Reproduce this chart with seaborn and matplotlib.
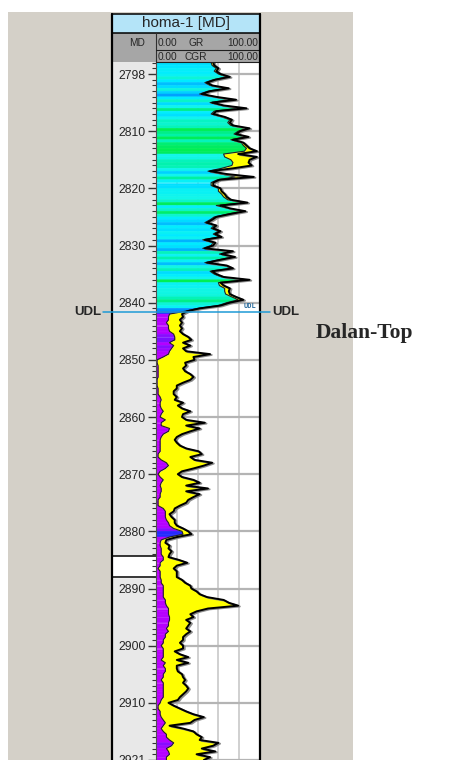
import numpy as np
import matplotlib
matplotlib.use("Agg")
import matplotlib.pyplot as plt
import matplotlib.patheffects as pe
import seaborn as sns
from matplotlib import transforms
from matplotlib.collections import PolyCollection
from matplotlib.colors import LinearSegmentedColormap
from matplotlib.lines import Line2D
from matplotlib.patches import Rectangle

# --- log data, sampled every 0.5 m from 2798 m MD ---
depth_top = 2798.0
depth_step = 0.5

gr = [55, 56, 60, 58, 62, 71, 57, 49, 54, 70,
      52, 44, 58, 77, 54, 65, 87, 58, 55, 66,
      73, 71, 74, 90, 81, 77, 89, 74, 84, 87,
      90, 97, 79, 97, 90, 89, 92, 74, 52, 68,
      94, 61, 55, 55, 62, 63, 66, 68, 72, 88,
      62, 71, 86, 71, 58, 54, 49, 58, 55, 62,
      57, 63, 47, 57, 55, 47, 74, 63, 76, 62,
      49, 68, 74, 54, 58, 65, 90, 62, 65, 71,
      70, 71, 77, 84, 71, 62, 42, 30, 25, 26,
      23, 25, 23, 25, 23, 26, 31, 34, 26, 33,
      26, 29, 52, 36, 37, 28, 29, 26, 28, 33,
      36, 33, 26, 20, 20, 17, 17, 20, 18, 26,
      21, 25, 33, 26, 25, 29, 47, 29, 42, 33,
      25, 20, 18, 20, 23, 29, 41, 44, 33, 37,
      54, 46, 36, 25, 21, 25, 36, 42, 29, 50,
      29, 42, 36, 31, 29, 23, 18, 17, 13, 15,
      18, 18, 20, 26, 31, 34, 20, 10, 9, 13,
      12, 15, 13, 12, 22, 30, 20, 17, 20, 20,
      20, 25, 28, 33, 34, 39, 42, 49, 65, 70,
      79, 50, 39, 33, 36, 29, 33, 31, 29, 33,
      29, 26, 26, 23, 26, 26, 18, 23, 31, 20,
      31, 20, 20, 21, 25, 26, 28, 26, 29, 31,
      29, 26, 23, 21, 12, 17, 23, 29, 36, 46,
      37, 33, 13, 26, 36, 39, 44, 42, 60, 55,
      44, 57, 39, 52, 46]

cgr = [53, 54, 58, 56, 60, 68, 55, 47, 52, 67,
       50, 42, 56, 70, 52, 63, 79, 56, 53, 63,
       71, 69, 72, 87, 79, 75, 86, 72, 82, 84,
       87, 85, 65, 66, 72, 74, 73, 63, 50, 63,
       76, 59, 53, 53, 60, 60, 63, 65, 69, 85,
       58, 69, 83, 69, 56, 52, 47, 56, 53, 60,
       55, 61, 45, 55, 53, 45, 72, 61, 74, 60,
       47, 66, 72, 52, 56, 63, 87, 60, 61, 66,
       66, 67, 73, 79, 68, 60, 40, 28, 13, 12,
       12, 10, 12, 12, 13, 17, 18, 18, 13, 17,
       15, 13, 12, 7, 1, 1, 2, 2, 2, 2,
       2, 1, 1, 1, 2, 2, 2, 4, 5, 4,
       4, 5, 7, 5, 4, 9, 5, 5, 13, 12,
       7, 5, 4, 4, 4, 4, 4, 2, 2, 5,
       10, 12, 9, 4, 2, 4, 7, 5, 4, 5,
       5, 4, 4, 2, 2, 2, 7, 9, 9, 9,
       10, 12, 13, 17, 25, 26, 13, 5, 4, 4,
       5, 5, 5, 7, 7, 4, 4, 2, 4, 4,
       4, 5, 5, 7, 7, 7, 7, 7, 9, 9,
       10, 12, 12, 12, 13, 13, 12, 12, 10, 12,
       9, 9, 7, 7, 5, 7, 7, 7, 7, 5,
       9, 7, 9, 9, 7, 7, 5, 7, 7, 7,
       7, 7, 7, 5, 4, 2, 2, 4, 4, 5,
       7, 9, 7, 5, 7, 10, 10, 13, 17, 15,
       10, 12, 13, 10, 10]

udl_depth = 2841.7
gap_top, gap_base = 2884.3, 2887.9
major_ticks = [2800, 2810, 2820, 2830, 2840, 2850, 2860,
               2870, 2880, 2890, 2900, 2910, 2920]
tick_labels = ["2798", "2810", "2820", "2830", "2840", "2850", "2860",
               "2870", "2880", "2890", "2900", "2910", "2921"]

gr = np.array(gr, dtype=float)
cgr = np.array(cgr, dtype=float)
depth = depth_top + depth_step * np.arange(len(gr))

W, H = 472, 760


def fx(px):
    return px / W


def fy(py):
    return 1 - py / H


sns.set_style("white")
plt.rcParams["font.family"] = ["Liberation Sans", "DejaVu Sans"]

fig = plt.figure(figsize=(W / 100, H / 100), dpi=100)
fig.patch.set_facecolor("white")
fig.add_artist(Rectangle((fx(8), 0), fx(353) - fx(8), fy(12), transform=fig.transFigure,
                         facecolor="#d4d0c8", edgecolor="none", zorder=-5))

y_top, y_bot = 2797.9, 2919.9

# depth column
ax_d = fig.add_axes([fx(112), 0, fx(156) - fx(112), fy(62)])
ax_d.set_facecolor("#e8e8e8")
ax_d.set_ylim(y_bot, y_top)
ax_d.set_xlim(0, 1)
ax_d.set_xticks([])
ax_d.set_yticks([])
for s in ax_d.spines.values():
    s.set_visible(False)
ax_d.axhspan(gap_top, gap_base, color="white")
ax_d.axhline(gap_top, color="black", lw=1.1)
ax_d.axhline(gap_base, color="black", lw=1.1)

# log track
ax = fig.add_axes([fx(156), 0, fx(260) - fx(156), fy(62)])
ax.set_facecolor("white")
ax.set_xlim(0, 100)
ax.set_ylim(y_bot, y_top)
ax.set_axisbelow(True)

cmap = LinearSegmentedColormap.from_list("fill", [
    (0.00, "#c400ff"), (0.13, "#b400ff"), (0.18, "#7a10ff"), (0.25, "#2828ff"),
    (0.35, "#0070ff"), (0.42, "#00a0ff"), (0.48, "#00c4ff"), (0.55, "#00ecff"),
    (0.65, "#12f6ea"), (0.75, "#00f2a8"), (0.85, "#00ec5c"), (1.00, "#00ff20")])

verts = []
cols = []
for i in range(len(depth) - 1):
    verts.append([(0, depth[i]), (cgr[i], depth[i]), (cgr[i + 1], depth[i + 1]), (0, depth[i + 1])])
    cols.append(cmap(cgr[i] / 100))
ax.add_collection(PolyCollection(verts, facecolors=cols, edgecolors=cols, linewidths=0.4, zorder=1))

ax.fill_betweenx(depth, cgr, gr, where=gr >= cgr, interpolate=True,
                 color="#ffff00", lw=0, zorder=1.5)

sns.lineplot(x=cgr, y=depth, orient="y", sort=False, estimator=None,
             color="#222222", lw=0.8, ax=ax, zorder=2)
sns.lineplot(x=gr, y=depth, orient="y", sort=False, estimator=None,
             color="black", lw=1.4, ax=ax, zorder=3,
             path_effects=[pe.SimpleLineShadow(offset=(1.2, -0.6), shadow_color="#808080", alpha=0.9),
                           pe.Normal()])

ax.set_xticks([20, 40, 60, 80])
ax.grid(axis="x", color="#d0d0d0", lw=1.4)
ax.set_yticks(major_ticks)
ax.set_yticklabels(tick_labels)
ax.set_yticks(np.arange(2798, 2921, 1), minor=True)
ax.grid(axis="y", which="major", color="#b4b4b4", lw=1.6)
ax.tick_params(axis="x", bottom=False, labelbottom=False)
ax.tick_params(axis="y", which="major", left=True, length=5.8, width=1.0,
               direction="out", pad=1.5, labelsize=8.7, color="#333333")
ax.tick_params(axis="y", which="minor", left=True, length=2.8, width=0.8,
               direction="out", color="#333333")
ax.set_xlabel("")
ax.set_ylabel("")
for name, s in ax.spines.items():
    if name == "left":
        s.set_color("#505050")
        s.set_linewidth(0.8)
    else:
        s.set_visible(False)

# header
fig.add_artist(Rectangle((fx(112), fy(62)), fx(260) - fx(112), fy(33) - fy(62),
                         transform=fig.transFigure, facecolor="#a6a6a6", edgecolor="none", zorder=4))
fig.add_artist(Rectangle((fx(112), fy(33)), fx(260) - fx(112), fy(14) - fy(33),
                         transform=fig.transFigure, facecolor="#b4e4f8", edgecolor="black",
                         lw=1.1, zorder=4))
fig.add_artist(Line2D([fx(156), fx(156)], [fy(33), fy(62)], transform=fig.transFigure,
                      color="#303030", lw=0.8, zorder=5))
for yy in (49.5, 61.5):
    fig.add_artist(Line2D([fx(156), fx(260)], [fy(yy), fy(yy)], transform=fig.transFigure,
                          color="#202020", lw=0.8, zorder=5))
fig.text(fx(186), fy(23.5), "homa-1 [MD]", fontsize=11, ha="center", va="center", zorder=6)
fig.text(fx(137), fy(43), "MD", fontsize=7.3, ha="center", va="center", zorder=6)
for row_y, name in ((42.5, "GR"), (56.5, "CGR")):
    fig.text(fx(157.5), fy(row_y), "0.00", fontsize=7.3, ha="left", va="center", zorder=6)
    fig.text(fx(196), fy(row_y), name, fontsize=7.3, ha="center", va="center", zorder=6)
    fig.text(fx(258.5), fy(row_y), "100.00", fontsize=7.3, ha="right", va="center", zorder=6)

# outer frame
for xx in (112, 260):
    fig.add_artist(Line2D([fx(xx), fx(xx)], [0, fy(14)], transform=fig.transFigure,
                          color="black", lw=1.6, zorder=7))

# UDL marker
trans = transforms.blended_transform_factory(fig.transFigure, ax.transData)
fig.add_artist(Line2D([fx(103), fx(270)], [udl_depth, udl_depth], transform=trans,
                      color="#1e9ad6", lw=1.1, zorder=8))
fig.text(fx(101), udl_depth, "UDL", transform=trans, ha="right", va="center",
         fontsize=9.5, fontweight="bold")
fig.text(fx(272), udl_depth, "UDL", transform=trans, ha="left", va="center",
         fontsize=9.5, fontweight="bold")
fig.text(fx(250), fy(305.5), "UDL", ha="center", va="center", fontsize=5,
         family="DejaVu Sans Mono", fontweight="bold", color="#2e6e9e", zorder=8)

fig.text(fx(316), fy(333), "Dalan-Top", family="Liberation Serif", fontweight="bold",
         fontsize=15.5, ha="left", va="center")

fig.savefig("out.png", dpi=100)
